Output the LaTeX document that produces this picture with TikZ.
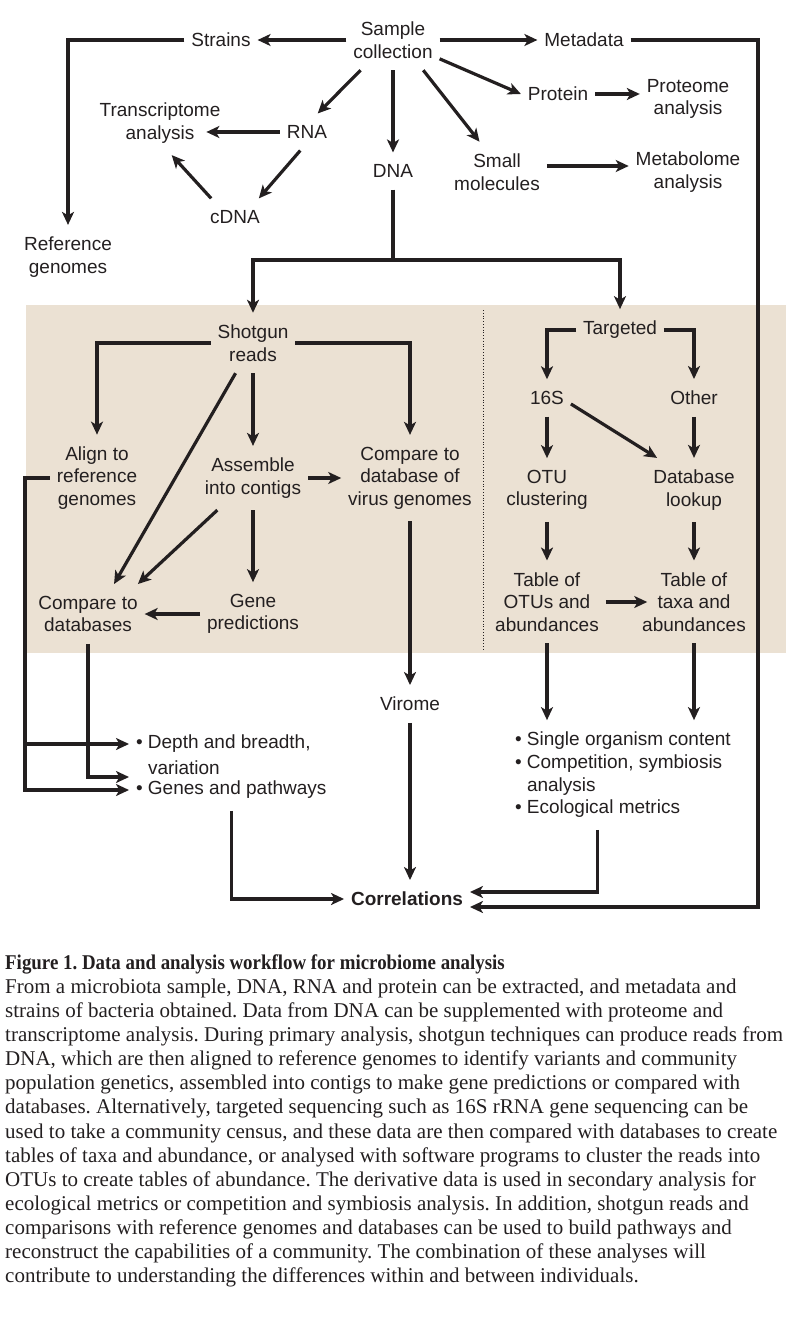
\documentclass[tikz,border=0pt]{standalone}
\usepackage{fontspec}
\setmainfont{Liberation Sans}
\newfontfamily\capfont{Liberation Serif}
\newfontfamily\titlefont[FakeStretch=0.9]{Liberation Serif}
\usetikzlibrary{arrows.meta, calc, positioning}
\definecolor{ink}{HTML}{231F20}
\definecolor{panel}{HTML}{EBE1D3}
\frenchspacing

\begin{document}
\begin{tikzpicture}[x=1pt, y=-1pt,
    every node/.style={text=ink, font=\fontsize{19}{22.5}\selectfont},
    lbl/.style={align=center, inner xsep=2pt, inner ysep=7pt, outer sep=5pt},
    bul/.style={anchor=west, inner xsep=2pt, inner ysep=7pt, outer sep=5pt},
    arr/.style={draw=ink, line width=3.2pt, -{Stealth[length=13pt, width=12pt, inset=3.5pt]}},
    wire/.style={draw=ink, line width=3.2pt}]
    \useasboundingbox (0,0) rectangle (796,1343);

    % shaded panel for primary analysis
    \fill[panel] (26,305) rectangle (786,653);
    \draw[ink, dotted, line width=0.8pt] (483,310) -- (483,650);

    % sample and what comes out of it
    \node[lbl] (sample) at (393,40) {Sample\\collection};
    \node[lbl] (strains) at (221,40) {Strains};
    \node[lbl] (refgen) at (68,257) {Reference\\genomes};
    \node[lbl] (meta) at (584,40) {Metadata};
    \node[lbl] (protein) at (558,94) {Protein};
    \node[lbl] (proteome) at (688,99) {Proteome\\analysis};
    \node[lbl] (small) at (497,172) {Small\\molecules};
    \node[lbl] (metab) at (688,172) {Metabolome\\analysis};
    \node[lbl] (rna) at (307,132) {RNA};
    \node[lbl] (trans) at (160,123) {Transcriptome\\analysis};
    \node[lbl] (cdna) at (235,217) {cDNA};
    \node[lbl] (dna) at (393,171) {DNA};

    % shotgun side
    \node[lbl] (shotgun) at (253,343) {Shotgun\\reads};
    \node[lbl] (align) at (97,478) {Align to\\reference\\genomes};
    \node[lbl] (assemble) at (253,478) {Assemble\\into contigs};
    \node[lbl] (virus) at (410,478) {Compare to\\database of\\virus genomes};
    \node[lbl] (cdb) at (88,614) {Compare to\\databases};
    \node[lbl] (gene) at (253,614) {Gene\\predictions};

    % targeted side
    \node[lbl] (targeted) at (620,330) {Targeted};
    \node[lbl] (s16) at (547,398) {16S};
    \node[lbl] (other) at (694,398) {Other};
    \node[lbl] (otu) at (547,490) {OTU\\clustering};
    \node[lbl] (dblookup) at (694,490) {Database\\lookup};
    \node[lbl] (tabotu) at (547,602) {Table of\\OTUs and\\abundances};
    \node[lbl] (tabtaxa) at (694,602) {Table of\\taxa and\\abundances};

    % results
    \node[lbl] (virome) at (410,704) {Virome};
    \node[lbl, font=\fontsize{19}{22.5}\selectfont\bfseries] (corr) at (407,899) {Correlations};
    \node[bul] (dep1) at (129,744) {• Depth and breadth,};
    \node[bul] (dep2) at (141,768) {variation};
    \node[bul] (genes) at (129,790) {• Genes and pathways};
    \node[bul] (single) at (508,741) {• Single organism content};
    \node[bul] (comp1) at (508,764) {• Competition, symbiosis};
    \node[bul] (comp2) at (520,787) {analysis};
    \node[bul] (eco) at (508,809) {• Ecological metrics};

    \coordinate (split) at (393,260);
    \coordinate (lrail) at (25,0);
    \coordinate (rrail) at (758,907);

    % top arrows
    \draw[arr] (sample.west) -- (strains.east);
    \draw[arr] (strains.west) -| (refgen.north);
    \draw[arr] (sample.east) -- (meta.west);
    \draw[arr] (meta.east) -| (rrail) -- (rrail -| corr.east);
    \draw[arr] (sample.-22) -- (protein.west);
    \draw[arr] (protein.east) -- (protein.east -| proteome.west);
    \draw[arr] (sample.-45) -- (small.120);
    \draw[arr] ($(small.east)+(0,-6)$) -- ($(small.east -| metab.west)+(0,-6)$);
    \draw[arr] (sample.south) -- (dna.north);
    \draw[arr] (sample.-137) -- (rna.60);
    \draw[arr] (rna.west) -- ($(rna.west -| trans.east)+(-21,0)$);
    \draw[arr] (rna.-110) -- (cdna.38);
    \draw[arr] (cdna.142) -- (trans.-70);
    \draw[wire] (dna.south) -- (split);
    \draw[arr] (split) -| (shotgun.north);
    \draw[arr] (split) -| (targeted.north);

    % panel arrows
    \draw[arr] (shotgun.west) -| (align.north);
    \draw[arr] (shotgun.east) -| (virus.north);
    \draw[arr] (shotgun.south) -- (assemble.north);
    \draw[arr] (shotgun.-120) -- (cdb.49);
    \draw[arr] (assemble.-138) -- (cdb.31);
    \draw[arr] (assemble.south) -- (gene.north);
    \draw[arr] (gene.west) -- (cdb.east);
    \draw[arr] (assemble.east) -- (virus.west);
    \draw[arr] (targeted.west) -| (s16.north);
    \draw[arr] (targeted.east) -| (other.north);
    \draw[arr] (s16.south) -- (otu.north);
    \draw[arr] (s16.-14) -- (dblookup.139);
    \draw[arr] (other.south) -- (dblookup.north);
    \draw[arr] (otu.south) -- (tabotu.north);
    \draw[arr] (dblookup.south) -- (tabtaxa.north);
    \draw[arr] (tabotu.east) -- ($(tabotu.east -| tabtaxa.west)+(12,0)$);

    % lower arrows
    \draw[arr] (align.west) -| (lrail |- genes.west) -- (genes.west);
    \draw[arr] (lrail |- dep1.west) -- (dep1.west);
    \draw[arr] (cdb.south) |- ($(genes.west)+(0,-13)$);
    \draw[arr] (virus.south) -- (virome.north);
    \draw[arr] (virome.south) -- (virome.south |- corr.north);
    \draw[arr] (tabotu.south) -- (tabotu.south |- single.north);
    \draw[arr] (tabtaxa.south) -- (tabtaxa.south |- single.north);
    \draw[arr] (genes.south) |- (corr.west);
    \draw[arr] (eco.south) |- ($(corr.east)+(0,-7)$);

    % caption
    \node[anchor=north west, inner sep=0pt, align=left,
          font=\capfont\fontsize{21}{24.15}\selectfont] (caption) at (5,954)
        {{\titlefont\bfseries Figure 1. Data and analysis workflow for microbiome analysis}\\
         From a microbiota sample, DNA, RNA and protein can be extracted, and metadata and\\
         strains of bacteria obtained. Data from DNA can be supplemented with proteome and\\
         transcriptome analysis. During primary analysis, shotgun techniques can produce reads from\\
         DNA, which are then aligned to reference genomes to identify variants and community\\
         population genetics, assembled into contigs to make gene predictions or compared with\\
         databases. Alternatively, targeted sequencing such as 16S rRNA gene sequencing can be\\
         used to take a community census, and these data are then compared with databases to create\\
         tables of taxa and abundance, or analysed with software programs to cluster the reads into\\
         OTUs to create tables of abundance. The derivative data is used in secondary analysis for\\
         ecological metrics or competition and symbiosis analysis. In addition, shotgun reads and\\
         comparisons with reference genomes and databases can be used to build pathways and\\
         reconstruct the capabilities of a community. The combination of these analyses will\\
         contribute to understanding the differences within and between individuals.};
\end{tikzpicture}
\end{document}
